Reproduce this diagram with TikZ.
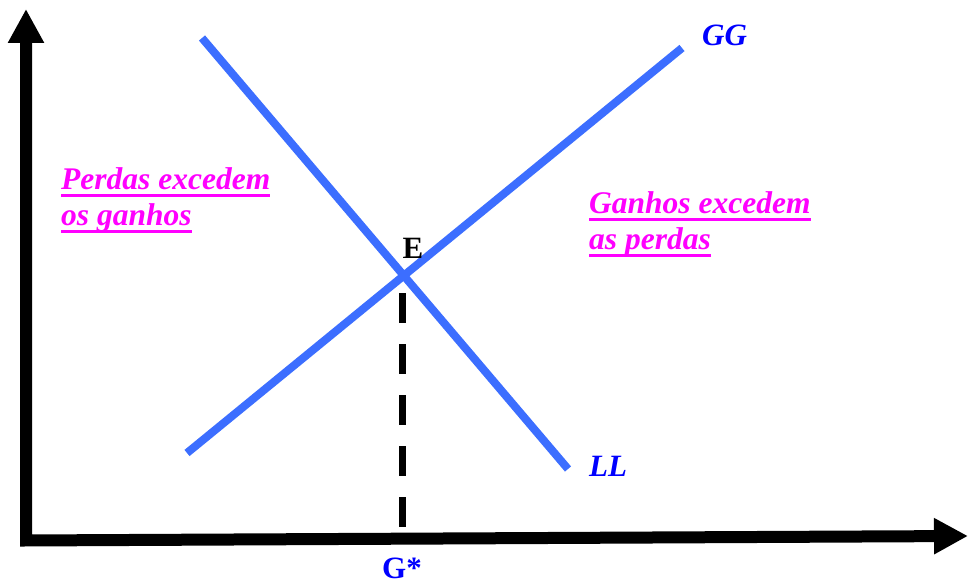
\documentclass[tikz,border=0pt]{standalone}
\usepackage{fontspec}
\setmainfont{Liberation Serif}
\usetikzlibrary{arrows.meta}
\definecolor{lineblue}{RGB}{60,110,255}
\definecolor{notemag}{RGB}{255,0,255}
\newcommand{\ulbar}[1]{\leavevmode\setbox0\hbox{#1}\rlap{\rule[-7pt]{\wd0}{3pt}}\box0}

\begin{document}
\begin{tikzpicture}[x=1pt,y=1pt,
  curve/.style={line width=8pt,lineblue},
  lbl/.style={inner sep=0pt,font=\fontsize{31}{36}\selectfont\bfseries},
  note/.style={inner sep=0pt,anchor=base west,align=left,text=notemag,
    font=\fontsize{31.5}{36}\selectfont\bfseries\itshape}]
  \useasboundingbox (0,0) rectangle (970,585);
  \draw[line width=12pt,line join=miter,
    {Triangle[width=34pt,length=34pt]}-{Triangle[width=34pt,length=34pt]}]
    (26,576)--(26,44.5)--(968,49);
  \coordinate (gg0) at (187,132);
  \coordinate (gg1) at (682,537);
  \coordinate (ll0) at (202,547);
  \coordinate (ll1) at (568,116);
  \draw[curve] (gg0)--(gg1);
  \draw[curve] (ll0)--(ll1);
  \coordinate (foot) at (402.5,58);
  \coordinate (top) at (402.5,293);
  \draw[line width=7pt,dash pattern=on 30pt off 21pt] (foot)--(top);
  \node[lbl,anchor=base west,text=blue] (GG) at (702,539) {\itshape GG};
  \node[lbl,anchor=base west,text=blue] (LL) at (589,108) {\itshape LL};
  \node[lbl,anchor=base] (E) at (413,326) {E};
  \node[lbl,anchor=base,text=blue] (Gstar) at (402,6.5) {G*};
  \node[note] (loss) at (61,359) {\ulbar{Perdas excedem}\\\ulbar{os ganhos}};
  \node[note] (gain) at (589,335) {\ulbar{Ganhos excedem}\\\ulbar{as perdas}};
\end{tikzpicture}
\end{document}
